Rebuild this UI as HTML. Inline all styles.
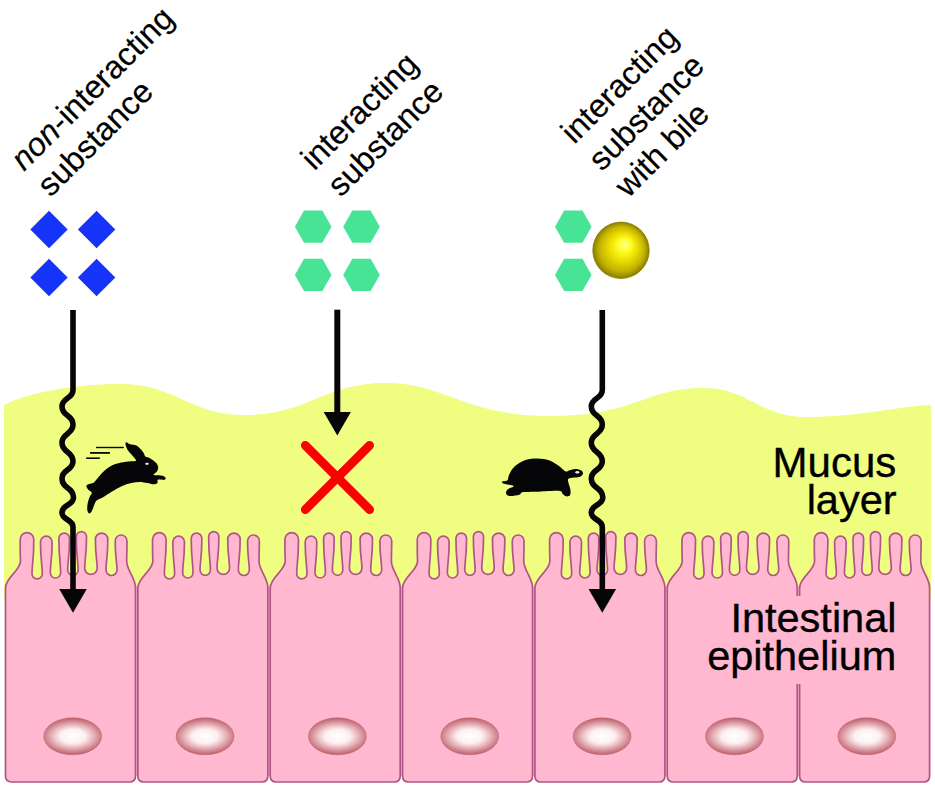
<!DOCTYPE html>
<html><head><meta charset="utf-8"><style>
html,body{margin:0;padding:0;background:#fff;}
svg{display:block;font-family:"Liberation Sans",sans-serif;}
</style></head><body>
<svg width="935" height="796" viewBox="0 0 935 796">
<defs>
<radialGradient id="gnuc" cx="0.5" cy="0.5" r="0.5" gradientTransform="translate(0.5,0.5) scale(1.14,1) translate(-0.5,-0.5)">
<stop offset="0" stop-color="#ffffff"/><stop offset="0.38" stop-color="#fcf0f2"/><stop offset="0.6" stop-color="#ebbcc2"/><stop offset="0.78" stop-color="#d6909a"/><stop offset="0.9" stop-color="#c8747e"/><stop offset="1" stop-color="#b8606c"/>
</radialGradient>
<radialGradient id="gball" cx="50%" cy="50%" r="50%" fx="58%" fy="38%">
<stop offset="0" stop-color="#ffffa0"/><stop offset="0.22" stop-color="#ffff28"/><stop offset="0.5" stop-color="#eadd00"/><stop offset="0.8" stop-color="#c2b200"/><stop offset="1" stop-color="#8a7c00"/>
</radialGradient>
</defs>
<rect width="935" height="796" fill="#fff"/>
<path d="M4,600 L4,405 C25,394 70,384 120,384 C176.25,384 188.75,415 245,415 C308.45,415 322.55,383 386,383 C445.04,383 464.72,416 550,416 C635.68,416 644.86,388 703,388 C748.9,388 759.1,417 805,417 C860,417 900,406 931,405 L931,600 Z" fill="#effd80"/>
<rect x="8" y="586" width="920" height="190" fill="#ffb8d0"/>
<g fill="#ffb8d0" stroke="#b05686" stroke-width="1.7" stroke-linejoin="round"><path d="M5.5,776L5.5,588C5.5,577 20.5,571 20.5,561C20.2,553 20.2,547.4 20.2,539.4A6.8,6.8 0 0 1 33.8,539.4C33.8,560.63 32,563.38 32,573.65A5.15,5.15 0 0 0 42.3,573.65C42.3,564.12 40.5,561.58 40.5,541.9A5.8,5.8 0 0 1 52.1,541.9C52.1,561.06 50.3,563.53 50.3,572.8A5.2,5.2 0 0 0 60.7,572.8C60.7,562.48 58.9,559.73 58.9,538.4A5.3,5.3 0 0 1 69.5,538.4C69.5,558.05 67.7,560.59 67.7,570.1A5.2,5.2 0 0 0 78.1,570.1C78.1,560.11 76.3,557.45 76.3,536.8A5.1,5.1 0 0 1 86.5,536.8C86.5,556.24 84.7,558.75 84.7,568.15A6.25,6.25 0 0 0 97.2,568.15C97.2,559.5 95.4,557.19 95.4,539.3A6.2,6.2 0 0 1 107.8,539.3C107.8,558.33 106,560.79 106,570A5.5,5.5 0 0 0 117,570C117,561.27 115.2,558.94 115.2,540.9A5.9,5.9 0 0 1 127,540.9C127,548.9 126.7,553 126.7,561C126.7,571 135.5,577 135.5,588L135.5,776Q135.5,782 129.5,782L11.5,782Q5.5,782 5.5,776Z"/><path d="M137.85,776L137.85,588C137.85,577 152.85,571 152.85,561C152.55,553 152.55,547.4 152.55,539.4A6.8,6.8 0 0 1 166.15,539.4C166.15,560.63 164.35,563.38 164.35,573.65A5.15,5.15 0 0 0 174.65,573.65C174.65,564.12 172.85,561.58 172.85,541.9A5.8,5.8 0 0 1 184.45,541.9C184.45,561.06 182.65,563.53 182.65,572.8A5.2,5.2 0 0 0 193.05,572.8C193.05,562.48 191.25,559.73 191.25,538.4A5.3,5.3 0 0 1 201.85,538.4C201.85,558.05 200.05,560.59 200.05,570.1A5.2,5.2 0 0 0 210.45,570.1C210.45,560.11 208.65,557.45 208.65,536.8A5.1,5.1 0 0 1 218.85,536.8C218.85,556.24 217.05,558.75 217.05,568.15A6.25,6.25 0 0 0 229.55,568.15C229.55,559.5 227.75,557.19 227.75,539.3A6.2,6.2 0 0 1 240.15,539.3C240.15,558.33 238.35,560.79 238.35,570A5.5,5.5 0 0 0 249.35,570C249.35,561.27 247.55,558.94 247.55,540.9A5.9,5.9 0 0 1 259.35,540.9C259.35,548.9 259.05,553 259.05,561C259.05,571 267.85,577 267.85,588L267.85,776Q267.85,782 261.85,782L143.85,782Q137.85,782 137.85,776Z"/><path d="M270.2,776L270.2,588C270.2,577 285.2,571 285.2,561C284.9,553 284.9,547.4 284.9,539.4A6.8,6.8 0 0 1 298.5,539.4C298.5,560.63 296.7,563.38 296.7,573.65A5.15,5.15 0 0 0 307,573.65C307,564.12 305.2,561.58 305.2,541.9A5.8,5.8 0 0 1 316.8,541.9C316.8,561.06 315,563.53 315,572.8A5.2,5.2 0 0 0 325.4,572.8C325.4,562.48 323.6,559.73 323.6,538.4A5.3,5.3 0 0 1 334.2,538.4C334.2,558.05 332.4,560.59 332.4,570.1A5.2,5.2 0 0 0 342.8,570.1C342.8,560.11 341,557.45 341,536.8A5.1,5.1 0 0 1 351.2,536.8C351.2,556.24 349.4,558.75 349.4,568.15A6.25,6.25 0 0 0 361.9,568.15C361.9,559.5 360.1,557.19 360.1,539.3A6.2,6.2 0 0 1 372.5,539.3C372.5,558.33 370.7,560.79 370.7,570A5.5,5.5 0 0 0 381.7,570C381.7,561.27 379.9,558.94 379.9,540.9A5.9,5.9 0 0 1 391.7,540.9C391.7,548.9 391.4,553 391.4,561C391.4,571 400.2,577 400.2,588L400.2,776Q400.2,782 394.2,782L276.2,782Q270.2,782 270.2,776Z"/><path d="M402.55,776L402.55,588C402.55,577 417.55,571 417.55,561C417.25,553 417.25,547.4 417.25,539.4A6.8,6.8 0 0 1 430.85,539.4C430.85,560.63 429.05,563.38 429.05,573.65A5.15,5.15 0 0 0 439.35,573.65C439.35,564.12 437.55,561.58 437.55,541.9A5.8,5.8 0 0 1 449.15,541.9C449.15,561.06 447.35,563.53 447.35,572.8A5.2,5.2 0 0 0 457.75,572.8C457.75,562.48 455.95,559.73 455.95,538.4A5.3,5.3 0 0 1 466.55,538.4C466.55,558.05 464.75,560.59 464.75,570.1A5.2,5.2 0 0 0 475.15,570.1C475.15,560.11 473.35,557.45 473.35,536.8A5.1,5.1 0 0 1 483.55,536.8C483.55,556.24 481.75,558.75 481.75,568.15A6.25,6.25 0 0 0 494.25,568.15C494.25,559.5 492.45,557.19 492.45,539.3A6.2,6.2 0 0 1 504.85,539.3C504.85,558.33 503.05,560.79 503.05,570A5.5,5.5 0 0 0 514.05,570C514.05,561.27 512.25,558.94 512.25,540.9A5.9,5.9 0 0 1 524.05,540.9C524.05,548.9 523.75,553 523.75,561C523.75,571 532.55,577 532.55,588L532.55,776Q532.55,782 526.55,782L408.55,782Q402.55,782 402.55,776Z"/><path d="M534.9,776L534.9,588C534.9,577 549.9,571 549.9,561C549.6,553 549.6,547.4 549.6,539.4A6.8,6.8 0 0 1 563.2,539.4C563.2,560.63 561.4,563.38 561.4,573.65A5.15,5.15 0 0 0 571.7,573.65C571.7,564.12 569.9,561.58 569.9,541.9A5.8,5.8 0 0 1 581.5,541.9C581.5,561.06 579.7,563.53 579.7,572.8A5.2,5.2 0 0 0 590.1,572.8C590.1,562.48 588.3,559.73 588.3,538.4A5.3,5.3 0 0 1 598.9,538.4C598.9,558.05 597.1,560.59 597.1,570.1A5.2,5.2 0 0 0 607.5,570.1C607.5,560.11 605.7,557.45 605.7,536.8A5.1,5.1 0 0 1 615.9,536.8C615.9,556.24 614.1,558.75 614.1,568.15A6.25,6.25 0 0 0 626.6,568.15C626.6,559.5 624.8,557.19 624.8,539.3A6.2,6.2 0 0 1 637.2,539.3C637.2,558.33 635.4,560.79 635.4,570A5.5,5.5 0 0 0 646.4,570C646.4,561.27 644.6,558.94 644.6,540.9A5.9,5.9 0 0 1 656.4,540.9C656.4,548.9 656.1,553 656.1,561C656.1,571 664.9,577 664.9,588L664.9,776Q664.9,782 658.9,782L540.9,782Q534.9,782 534.9,776Z"/><path d="M667.25,776L667.25,588C667.25,577 682.25,571 682.25,561C681.95,553 681.95,547.4 681.95,539.4A6.8,6.8 0 0 1 695.55,539.4C695.55,560.63 693.75,563.38 693.75,573.65A5.15,5.15 0 0 0 704.05,573.65C704.05,564.12 702.25,561.58 702.25,541.9A5.8,5.8 0 0 1 713.85,541.9C713.85,561.06 712.05,563.53 712.05,572.8A5.2,5.2 0 0 0 722.45,572.8C722.45,562.48 720.65,559.73 720.65,538.4A5.3,5.3 0 0 1 731.25,538.4C731.25,558.05 729.45,560.59 729.45,570.1A5.2,5.2 0 0 0 739.85,570.1C739.85,560.11 738.05,557.45 738.05,536.8A5.1,5.1 0 0 1 748.25,536.8C748.25,556.24 746.45,558.75 746.45,568.15A6.25,6.25 0 0 0 758.95,568.15C758.95,559.5 757.15,557.19 757.15,539.3A6.2,6.2 0 0 1 769.55,539.3C769.55,558.33 767.75,560.79 767.75,570A5.5,5.5 0 0 0 778.75,570C778.75,561.27 776.95,558.94 776.95,540.9A5.9,5.9 0 0 1 788.75,540.9C788.75,548.9 788.45,553 788.45,561C788.45,571 797.25,577 797.25,588L797.25,776Q797.25,782 791.25,782L673.25,782Q667.25,782 667.25,776Z"/><path d="M799.6,776L799.6,588C799.6,577 814.6,571 814.6,561C814.3,553 814.3,547.4 814.3,539.4A6.8,6.8 0 0 1 827.9,539.4C827.9,560.63 826.1,563.38 826.1,573.65A5.15,5.15 0 0 0 836.4,573.65C836.4,564.12 834.6,561.58 834.6,541.9A5.8,5.8 0 0 1 846.2,541.9C846.2,561.06 844.4,563.53 844.4,572.8A5.2,5.2 0 0 0 854.8,572.8C854.8,562.48 853,559.73 853,538.4A5.3,5.3 0 0 1 863.6,538.4C863.6,558.05 861.8,560.59 861.8,570.1A5.2,5.2 0 0 0 872.2,570.1C872.2,560.11 870.4,557.45 870.4,536.8A5.1,5.1 0 0 1 880.6,536.8C880.6,556.24 878.8,558.75 878.8,568.15A6.25,6.25 0 0 0 891.3,568.15C891.3,559.5 889.5,557.19 889.5,539.3A6.2,6.2 0 0 1 901.9,539.3C901.9,558.33 900.1,560.79 900.1,570A5.5,5.5 0 0 0 911.1,570C911.1,561.27 909.3,558.94 909.3,540.9A5.9,5.9 0 0 1 921.1,540.9C921.1,548.9 920.8,553 920.8,561C920.8,571 929.6,577 929.6,588L929.6,776Q929.6,782 923.6,782L805.6,782Q799.6,782 799.6,776Z"/></g>
<g fill="url(#gnuc)" stroke="#b8606a" stroke-width="0.6" stroke-opacity="0.7"><ellipse cx="72.7" cy="736.3" rx="29" ry="18.5"/><ellipse cx="205.05" cy="736.3" rx="29" ry="18.5"/><ellipse cx="337.4" cy="736.3" rx="29" ry="18.5"/><ellipse cx="469.75" cy="736.3" rx="29" ry="18.5"/><ellipse cx="602.1" cy="736.3" rx="29" ry="18.5"/><ellipse cx="734.45" cy="736.3" rx="29" ry="18.5"/><ellipse cx="866.8" cy="736.3" rx="29" ry="18.5"/></g>
<g fill="#1634f8"><path d="M49,210.8 L67.7,229.5 L49,248.2 L30.3,229.5 Z"/><path d="M49,258.8 L67.7,277.5 L49,296.2 L30.3,277.5 Z"/><path d="M96.6,210.8 L115.3,229.5 L96.6,248.2 L77.9,229.5 Z"/><path d="M96.6,258.8 L115.3,277.5 L96.6,296.2 L77.9,277.5 Z"/></g><g fill="#48e496"><path d="M294.9,226.7 L304.05,210.6 L322.35,210.6 L331.5,226.7 L322.35,242.8 L304.05,242.8 Z"/><path d="M294.9,274.9 L304.05,258.8 L322.35,258.8 L331.5,274.9 L322.35,291 L304.05,291 Z"/><path d="M343.2,226.7 L352.35,210.6 L370.65,210.6 L379.8,226.7 L370.65,242.8 L352.35,242.8 Z"/><path d="M343.2,274.9 L352.35,258.8 L370.65,258.8 L379.8,274.9 L370.65,291 L352.35,291 Z"/></g><g fill="#48e496"><path d="M555,226.7 L564.15,210.6 L582.45,210.6 L591.6,226.7 L582.45,242.8 L564.15,242.8 Z"/><path d="M555,274.9 L564.15,258.8 L582.45,258.8 L591.6,274.9 L582.45,291 L564.15,291 Z"/></g><circle cx="621" cy="250.3" r="28.2" fill="url(#gball)" stroke="#8a8000" stroke-width="0.8"/><path d="M305.3,445.3 L369.6,509.6 M369.6,445.3 L305.3,509.6" stroke="#fa0000" stroke-width="8.8" stroke-linecap="round" fill="none"/><path d="M126.23,442.37 C126.96,442.22 128.38,443.75 130.07,444.29 C131.76,444.82 134.59,444.73 136.37,445.57 C138.15,446.41 139.46,447.95 140.75,449.31 C142.03,450.66 143.29,452.47 144.05,453.68 C144.82,454.89 144.27,455.76 145.34,456.57 C146.4,457.37 148.68,457.45 150.46,458.49 C152.24,459.52 154.73,461.33 156.01,462.76 C157.29,464.18 157.97,465.6 158.15,467.03 C158.32,468.45 157.65,470.23 157.08,471.3 C156.51,472.37 155.3,472.81 154.73,473.43 C154.16,474.06 152.6,474.68 153.66,475.03 C154.73,475.39 159.18,475.16 161.14,475.57 C163.09,475.98 164.87,476.78 165.41,477.49 C165.94,478.2 165.58,479.48 164.34,479.84 C163.09,480.19 159.09,479.09 157.93,479.62 C156.78,480.16 158.11,482.26 157.4,483.04 C156.69,483.82 155.35,484.32 153.66,484.32 C151.97,484.32 149.57,483.43 147.26,483.04 C144.94,482.65 142.45,481.97 139.78,481.97 C137.12,481.97 134.27,482.33 131.24,483.04 C128.22,483.75 124.84,484.82 121.64,486.24 C118.43,487.67 115.05,489.8 112.03,491.58 C109,493.36 105.98,495.5 103.49,496.92 C101,498.34 98.59,498.88 97.08,500.12 C95.57,501.37 95.3,502.52 94.41,504.39 C93.52,506.26 92.63,509.82 91.74,511.33 C90.85,512.84 89.82,513.73 89.07,513.47 C88.33,513.2 87.49,511.42 87.26,509.73 C87.03,508.04 87.3,505.46 87.69,503.32 C88.08,501.19 88.93,498.7 89.61,496.92 C90.28,495.14 92.01,493.89 91.74,492.65 C91.48,491.4 88.9,490.6 88.01,489.45 C87.12,488.29 86.23,486.64 86.41,485.71 C86.58,484.78 87.83,484.43 89.07,483.9 C90.32,483.36 92.01,483.98 93.88,482.51 C95.75,481.03 97.97,477.44 100.28,475.03 C102.6,472.63 105.09,469.96 107.76,468.09 C110.43,466.23 113.27,464.89 116.3,463.82 C119.32,462.76 122.74,462.17 125.91,461.69 C129.07,461.21 133.66,461.26 135.3,460.94 C136.94,460.62 136.23,460.66 135.73,459.77 C135.23,458.88 133.59,457.13 132.31,455.6 C131.03,454.07 129.14,452.33 128.04,450.59 C126.94,448.84 125.99,446.51 125.69,445.14 C125.39,443.77 125.5,442.51 126.23,442.37 Z" fill="#060608"/><ellipse cx="147" cy="463.8" rx="1.8" ry="1.1" fill="#f0f0d0"/><g stroke="#060608" fill="none"><path d="M96,447.5 H123.8" stroke-width="1.4"/><path d="M90.1,452.9 H109.9" stroke-width="1.8"/><path d="M86.2,458.2 H99.8" stroke-width="1.6"/></g><path d="M501.91,481.78 C502.28,481.15 506.18,481.58 507.4,480.36 C508.62,479.14 507.99,476.8 509.22,474.47 C510.46,472.13 512.1,468.74 514.81,466.34 C517.52,463.93 521.67,461.36 525.48,460.04 C529.29,458.72 533.78,458.38 537.67,458.41 C541.57,458.45 545.46,459.09 548.85,460.24 C552.24,461.39 555.29,463.49 558,465.32 C560.7,467.15 563.24,470.37 565.11,471.21 C566.97,472.06 567.48,470.79 569.17,470.4 C570.87,470.01 573.24,468.88 575.27,468.88 C577.3,468.88 580.09,469.55 581.36,470.4 C582.63,471.25 583.23,472.86 582.89,473.96 C582.55,475.06 581.11,476.38 579.33,477.01 C577.55,477.63 574.08,477.38 572.22,477.72 C570.36,478.06 568.75,478.06 568.16,479.04 C567.56,480.02 568.29,481.83 568.66,483.61 C569.04,485.39 570.17,487.76 570.39,489.71 C570.61,491.65 570.7,494.19 569.98,495.29 C569.27,496.4 567.36,496.56 566.12,496.31 C564.89,496.06 563.58,494.67 562.57,493.77 C561.55,492.87 562.82,491.35 560.03,490.93 C557.23,490.5 549.87,491.09 545.8,491.23 C541.74,491.37 539.54,491.57 535.64,491.74 C531.75,491.91 525.14,491.74 522.43,492.25 C519.72,492.75 521.59,494.16 519.39,494.79 C517.18,495.41 511.46,496.31 509.22,496.01 C506.99,495.7 506.14,494.14 505.97,492.96 C505.8,491.77 506.99,489.94 508.21,488.89 C509.43,487.84 512.61,487.25 513.29,486.66 C513.97,486.07 513.63,485.76 512.27,485.34 C510.92,484.91 506.89,484.71 505.16,484.12 C503.43,483.53 501.54,482.41 501.91,481.78 Z" fill="#060608"/><ellipse cx="577.3" cy="472.2" rx="2" ry="1.2" fill="#f0f0d0"/><path d="M73,310 L73,390 C73,399.07 62,397.43 62,406.5 C62,416.46 73,414.64 73,424.6 C73,434.61 62,432.79 62,442.8 C62,452.92 73,451.08 73,461.2 C73,470.71 62,468.99 62,478.5 C62,488.95 73.5,487.05 73.5,497.5 C73.5,505.75 62,504.25 62,512.5 C62,520.48 73,519.02 73,527 L73,592" fill="none" stroke="#060608" stroke-width="5.6"/><path d="M59.2,589 L86.8,589 L73,612.7 Z" fill="#060608"/><path d="M602.3,310 L602.3,390 C602.3,399.07 591.3,397.43 591.3,406.5 C591.3,416.46 602.3,414.64 602.3,424.6 C602.3,434.61 591.3,432.79 591.3,442.8 C591.3,452.92 602.3,451.08 602.3,461.2 C602.3,470.71 591.3,468.99 591.3,478.5 C591.3,488.95 602.8,487.05 602.8,497.5 C602.8,505.75 591.3,504.25 591.3,512.5 C591.3,520.48 602.3,519.02 602.3,527 L602.3,592" fill="none" stroke="#060608" stroke-width="5.6"/><path d="M588.5,589 L616.1,589 L602.3,612.7 Z" fill="#060608"/><path d="M337.3,309.7 L337.3,414" fill="none" stroke="#060608" stroke-width="6"/><path d="M323.7,411.9 L350.9,411.9 L337.3,435.4 Z" fill="#060608"/><g font-size="32.4" stroke="#000" stroke-width="0.2"><text transform="translate(24.1,171.9) rotate(-45)"><tspan font-style="italic">non</tspan>-interacting</text><text transform="translate(50.55,198) rotate(-45)">substance</text><text transform="translate(314.2,171.6) rotate(-45)">interacting</text><text transform="translate(340.75,198) rotate(-45)">substance</text><text transform="translate(574.2,145) rotate(-45)">interacting</text><text transform="translate(601.7,172.2) rotate(-45)">substance</text><text transform="translate(628.2,198.8) rotate(-45)">with bile</text></g><g font-size="41.5" text-anchor="end" stroke="#000" stroke-width="0.35"><text x="896.3" y="477" font-size="42">Mucus</text><text x="896.6" y="514.2">layer</text></g><rect x="770" y="596" width="60" height="88" fill="#ffb8d0"/><g font-size="41.5" text-anchor="end" stroke="#000" stroke-width="0.35"><text x="896.5" y="631.6">Intestinal</text><text x="896.3" y="669.7">epithelium</text></g>
</svg>
</body></html>
